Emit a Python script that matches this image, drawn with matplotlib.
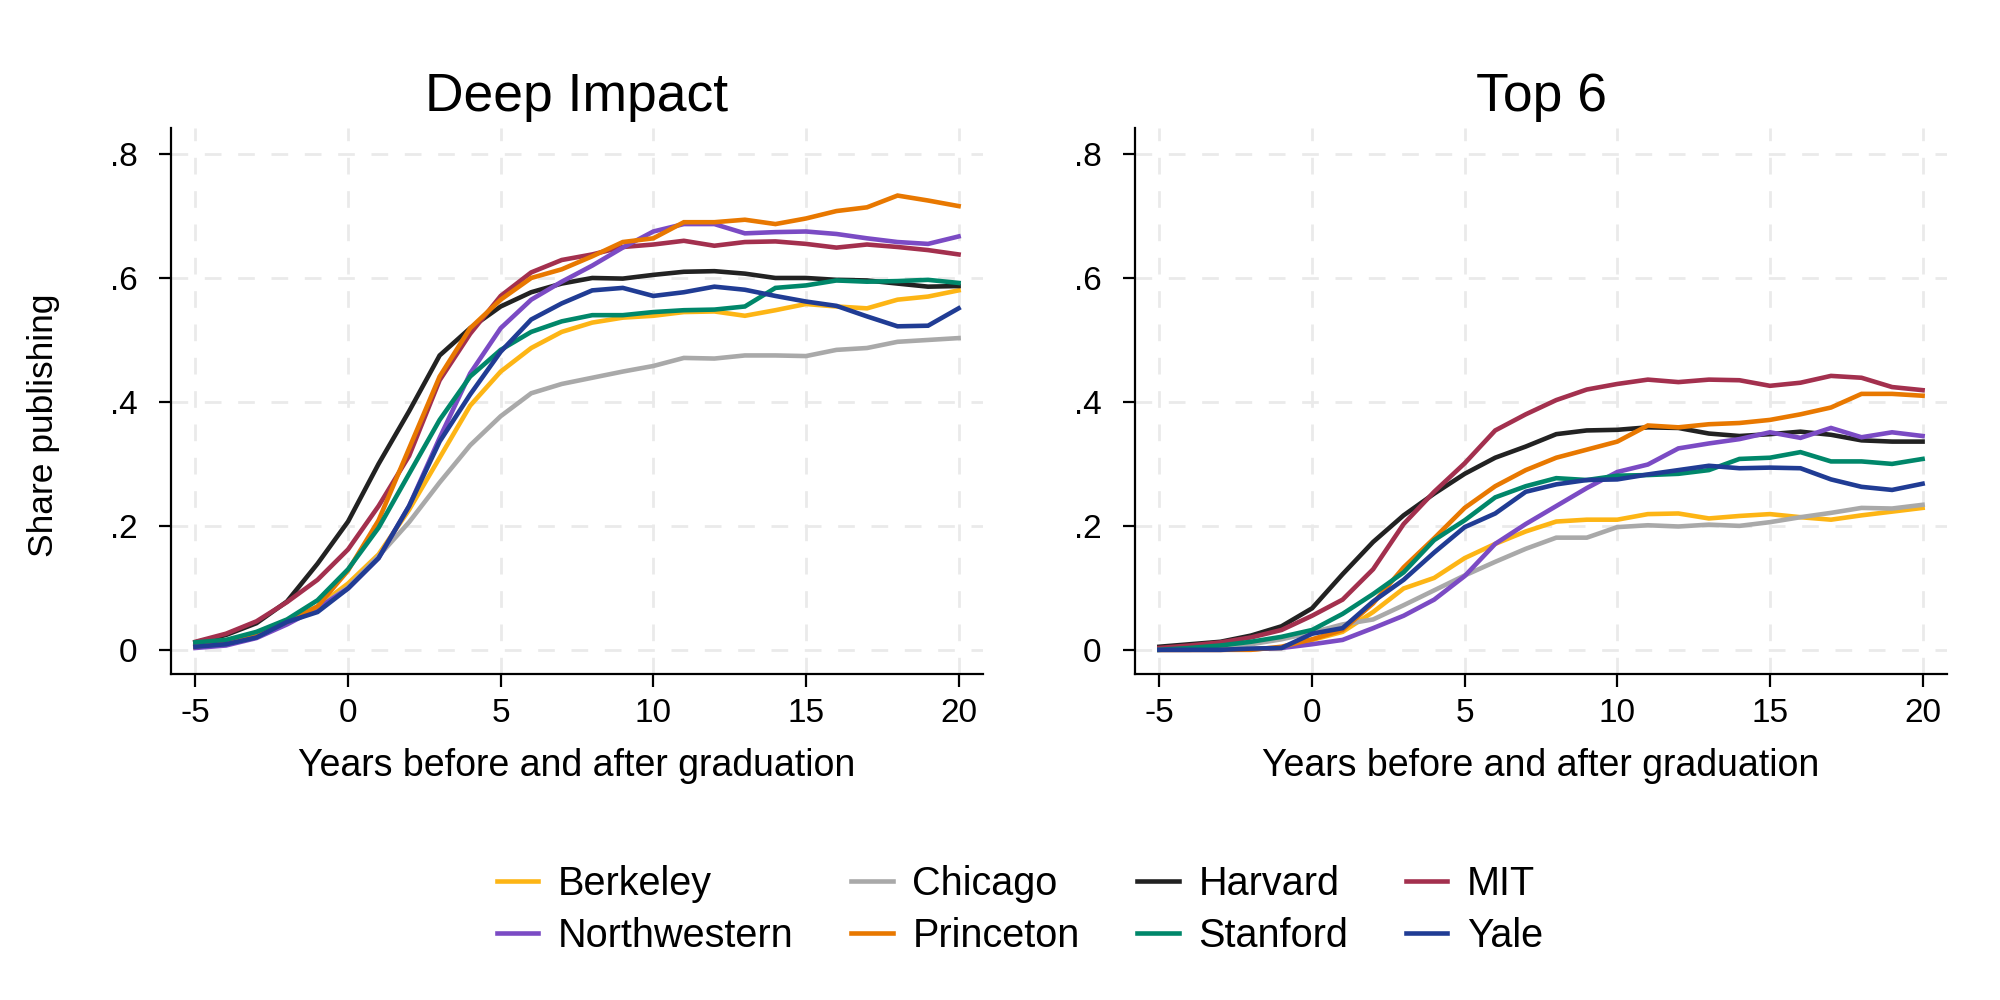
import matplotlib
matplotlib.use("Agg")
import matplotlib.pyplot as plt

plt.rcParams["font.family"] = ["Liberation Sans", "DejaVu Sans"]
plt.rcParams["axes.unicode_minus"] = False

years = list(range(-5, 21))

schools = ["Berkeley", "Chicago", "Harvard", "MIT",
           "Northwestern", "Princeton", "Stanford", "Yale"]
colors = ["#FDB515", "#A9A9A9", "#222222", "#A3304E",
          "#7B4BC4", "#E87800", "#00876A", "#203C94"]

# Deep Impact panel
deep_berkeley = [0.006, 0.010, 0.023, 0.045, 0.070, 0.107, 0.154, 0.226, 0.310, 0.394, 0.449, 0.487, 0.513,
                 0.528, 0.536, 0.539, 0.545, 0.546, 0.539, 0.548, 0.558, 0.554, 0.551, 0.565, 0.570, 0.580]
deep_chicago = [0.007, 0.013, 0.024, 0.046, 0.067, 0.101, 0.151, 0.206, 0.270, 0.330, 0.377, 0.414, 0.429,
                0.439, 0.449, 0.458, 0.471, 0.470, 0.475, 0.475, 0.474, 0.484, 0.487, 0.497, 0.500, 0.503]
deep_harvard = [0.012, 0.024, 0.043, 0.078, 0.139, 0.207, 0.300, 0.385, 0.475, 0.519, 0.554, 0.577, 0.591,
                0.600, 0.599, 0.605, 0.610, 0.611, 0.607, 0.600, 0.600, 0.597, 0.596, 0.591, 0.586, 0.587]
deep_mit = [0.013, 0.026, 0.046, 0.077, 0.113, 0.162, 0.232, 0.313, 0.435, 0.510, 0.571, 0.609, 0.629,
            0.638, 0.650, 0.654, 0.660, 0.652, 0.658, 0.659, 0.655, 0.649, 0.654, 0.650, 0.645, 0.638]
deep_northwestern = [0.003, 0.007, 0.019, 0.041, 0.067, 0.099, 0.148, 0.232, 0.342, 0.446, 0.519, 0.565, 0.594,
                     0.620, 0.649, 0.675, 0.687, 0.687, 0.672, 0.674, 0.675, 0.671, 0.664, 0.658, 0.655, 0.667]
deep_princeton = [0.005, 0.013, 0.026, 0.045, 0.070, 0.128, 0.209, 0.325, 0.441, 0.519, 0.565, 0.600, 0.614,
                  0.635, 0.658, 0.664, 0.690, 0.690, 0.694, 0.687, 0.696, 0.708, 0.714, 0.733, 0.725, 0.716]
deep_stanford = [0.012, 0.016, 0.029, 0.049, 0.080, 0.130, 0.197, 0.284, 0.371, 0.441, 0.484, 0.513, 0.530,
                 0.540, 0.540, 0.545, 0.548, 0.549, 0.554, 0.584, 0.588, 0.596, 0.594, 0.595, 0.597, 0.592]
deep_yale = [0.005, 0.009, 0.020, 0.045, 0.061, 0.099, 0.148, 0.232, 0.336, 0.412, 0.481, 0.533, 0.559,
             0.580, 0.584, 0.571, 0.577, 0.586, 0.581, 0.571, 0.562, 0.555, 0.538, 0.522, 0.523, 0.551]

# Top 6 panel
top_berkeley = [0.000, 0.000, 0.000, 0.001, 0.003, 0.016, 0.029, 0.061, 0.099, 0.116, 0.148, 0.171, 0.191,
                0.207, 0.210, 0.210, 0.219, 0.220, 0.212, 0.216, 0.219, 0.214, 0.210, 0.217, 0.223, 0.229]
top_chicago = [0.000, 0.000, 0.003, 0.009, 0.017, 0.028, 0.041, 0.049, 0.072, 0.096, 0.120, 0.142, 0.163,
               0.181, 0.181, 0.198, 0.201, 0.199, 0.202, 0.200, 0.206, 0.214, 0.221, 0.229, 0.228, 0.234]
top_harvard = [0.005, 0.009, 0.013, 0.023, 0.038, 0.067, 0.122, 0.174, 0.217, 0.252, 0.284, 0.310, 0.328,
               0.348, 0.354, 0.355, 0.359, 0.358, 0.349, 0.345, 0.348, 0.352, 0.347, 0.338, 0.336, 0.336]
top_mit = [0.003, 0.007, 0.012, 0.020, 0.032, 0.055, 0.081, 0.130, 0.203, 0.255, 0.301, 0.354, 0.380,
           0.403, 0.420, 0.429, 0.436, 0.432, 0.436, 0.435, 0.426, 0.431, 0.442, 0.439, 0.424, 0.419]
top_northwestern = [0.000, 0.000, 0.000, 0.001, 0.003, 0.009, 0.016, 0.035, 0.055, 0.081, 0.119, 0.171, 0.203,
                    0.232, 0.261, 0.287, 0.299, 0.325, 0.333, 0.340, 0.351, 0.342, 0.358, 0.343, 0.351, 0.345]
top_princeton = [0.000, 0.000, 0.000, 0.000, 0.005, 0.017, 0.032, 0.075, 0.133, 0.180, 0.229, 0.264, 0.290,
                 0.310, 0.323, 0.336, 0.362, 0.359, 0.364, 0.366, 0.371, 0.380, 0.391, 0.413, 0.413, 0.410]
top_stanford = [0.000, 0.003, 0.007, 0.013, 0.021, 0.032, 0.058, 0.090, 0.125, 0.177, 0.209, 0.246, 0.264,
                0.277, 0.274, 0.281, 0.282, 0.284, 0.290, 0.308, 0.310, 0.319, 0.304, 0.304, 0.300, 0.308]
top_yale = [0.000, 0.000, 0.000, 0.002, 0.003, 0.026, 0.035, 0.078, 0.113, 0.157, 0.198, 0.220, 0.255,
            0.267, 0.274, 0.275, 0.283, 0.290, 0.297, 0.293, 0.294, 0.293, 0.275, 0.263, 0.258, 0.268]

deep_series = [deep_berkeley, deep_chicago, deep_harvard, deep_mit,
               deep_northwestern, deep_princeton, deep_stanford, deep_yale]
top_series = [top_berkeley, top_chicago, top_harvard, top_mit,
              top_northwestern, top_princeton, top_stanford, top_yale]

xticks = [-5, 0, 5, 10, 15, 20]
yticks = [0, 0.2, 0.4, 0.6, 0.8]
ytick_labels = ["0", ".2", ".4", ".6", ".8"]

fig = plt.figure(figsize=(20, 10), dpi=100)
ax1 = fig.add_axes([0.0855, 0.326, 0.406, 0.546])
ax2 = fig.add_axes([0.5675, 0.326, 0.406, 0.546])


def style_panel(ax, title):
    ax.set_xlim(-5.8, 20.8)
    ax.set_ylim(-0.039, 0.842)
    ax.set_xticks(xticks)
    ax.set_xticklabels([str(v) for v in xticks])
    ax.set_yticks(yticks)
    ax.set_yticklabels(ytick_labels)
    ax.grid(True, color="#EAEAEA", linestyle=(0, (6, 6)), linewidth=2.0)
    ax.set_axisbelow(True)
    ax.spines["top"].set_visible(False)
    ax.spines["right"].set_visible(False)
    ax.spines["left"].set_linewidth(1.6)
    ax.spines["bottom"].set_linewidth(1.6)
    ax.tick_params(axis="both", direction="out", length=9, width=1.6,
                   labelsize=24)
    ax.tick_params(axis="x", pad=8)
    ax.tick_params(axis="y", pad=15)
    ax.set_xlabel("Years before and after graduation", fontsize=27, labelpad=14)
    ax.set_title(title, fontsize=38.5, pad=12)


for ax, series, title in [(ax1, deep_series, "Deep Impact"),
                          (ax2, top_series, "Top 6")]:
    for name, vals, col in zip(schools, series, colors):
        ax.plot(years, vals, color=col, linewidth=3.3, label=name,
                solid_joinstyle="miter")
    style_panel(ax, title)

ax1.set_ylabel("Share publishing", fontsize=25.5, labelpad=36)
ax1.yaxis.label.set_y(0.455)  # stata puts it a bit below centre

# legend rows follow Stata order: first row Berkeley..MIT, second Northwestern..Yale
handles, labels = ax1.get_legend_handles_labels()
order = [0, 4, 1, 5, 2, 6, 3, 7]
fig.legend([handles[i] for i in order], [labels[i] for i in order],
           loc="center", bbox_to_anchor=(0.51, 0.09), ncol=4, frameon=False,
           fontsize=28.5, handlelength=1.05, handletextpad=0.5,
           columnspacing=1.45, labelspacing=0.34)

fig.savefig("out.png", dpi=100, facecolor="white")
